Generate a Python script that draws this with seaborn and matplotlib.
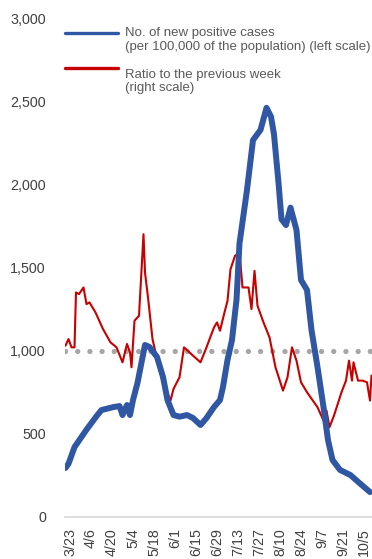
import pandas as pd
import seaborn as sns
import matplotlib.pyplot as plt
from matplotlib.lines import Line2D

year = 2021

# new positive cases per 100,000 (left scale)
case_dates = ["3/20", "3/22", "3/26", "4/3", "4/10", "4/13", "4/21", "4/25", "4/27", "4/30",
              "5/2", "5/4", "5/7", "5/10", "5/12", "5/15", "5/20", "5/24", "5/27", "5/31",
              "6/4", "6/9", "6/13", "6/18", "6/22", "6/27", "7/1", "7/3", "7/6", "7/9",
              "7/11", "7/12", "7/14", "7/19", "7/23", "7/28", "8/1", "8/4", "8/6", "8/9",
              "8/11", "8/14", "8/17", "8/21", "8/24", "8/28", "8/31", "9/4", "9/8", "9/11",
              "9/14", "9/19", "9/26", "10/2", "10/9"]
cases = [295, 320, 420, 525, 610, 643, 661, 667, 613, 673,
         613, 703, 806, 944, 1034, 1022, 962, 842, 703, 613,
         603, 613, 595, 553, 595, 661, 703, 782, 944, 1064,
         1226, 1305, 1645, 1966, 2266, 2327, 2460, 2407, 2300, 2010,
         1790, 1755, 1860, 1725, 1425, 1365, 1124, 902, 661, 463,
         343, 283, 252, 204, 150]

# ratio to the previous week (right scale)
ratio_dates = ["3/20", "3/22", "3/24", "3/26", "3/27", "3/29", "4/1", "4/3", "4/5", "4/9",
               "4/14", "4/19", "4/23", "4/27", "4/30", "5/2", "5/3", "5/5", "5/8", "5/11",
               "5/12", "5/14", "5/17", "5/20", "5/24", "5/29", "5/31", "6/4", "6/7", "6/13",
               "6/18", "6/22", "6/27", "6/29", "7/1", "7/4", "7/6", "7/8", "7/11",
               "7/14", "7/16", "7/20", "7/22", "7/24", "7/26", "7/30", "8/3", "8/7",
               "8/12", "8/15", "8/18", "8/21", "8/24", "8/28", "9/4", "9/8", "9/10", "9/12",
               "9/15", "9/20", "9/23", "9/25", "9/27", "9/28", "10/1", "10/4", "10/7", "10/9",
               "10/10"]
ratio = [1.03, 1.07, 1.02, 1.02, 1.35, 1.34, 1.38, 1.28, 1.29, 1.23,
         1.13, 1.05, 1.02, 0.93, 1.04, 0.99, 0.90, 1.18, 1.21, 1.70,
         1.47, 1.32, 1.07, 0.95, 0.81, 0.70, 0.77, 0.84, 1.02, 0.97,
         0.93, 1.02, 1.14, 1.17, 1.12, 1.23, 1.30, 1.49, 1.57,
         1.59, 1.38, 1.38, 1.25, 1.48, 1.27, 1.17, 1.08, 0.90,
         0.76, 0.84, 1.02, 0.94, 0.81, 0.75, 0.66, 0.58, 0.64, 0.54,
         0.61, 0.75, 0.82, 0.94, 0.82, 0.93, 0.82, 0.82, 0.81, 0.70,
         0.85]

tick_labels = ["3/23", "4/6", "4/20", "5/4", "5/18", "6/1", "6/15", "6/29",
               "7/13", "7/27", "8/10", "8/24", "9/7", "9/21", "10/5"]
y_ticks = [0, 500, 1000, 1500, 2000, 2500, 3000]
y_labels = ["0", "500", "1,000", "1,500", "2,000", "2,500", "3,000"]

legend_lines = [["No. of new positive cases", "(per 100,000 of the population) (left scale)"],
                ["Ratio to the previous week", "(right scale)"]]


def to_date(s):
    return pd.to_datetime(f"{year}/{s}", format="%Y/%m/%d")


case_df = pd.DataFrame({"date": [to_date(d) for d in case_dates], "cases": cases})
ratio_df = pd.DataFrame({"date": [to_date(d) for d in ratio_dates], "ratio": ratio})

sns.set_style("white")
plt.rcParams["font.family"] = ["Liberation Sans", "DejaVu Sans"]

blue = "#2F57A3"
red = "#C80000"
tick_color = "#404040"

fig = plt.figure(figsize=(3.72, 5.59), dpi=100)
ax = fig.add_axes([65 / 372, 42 / 559, 307 / 372, 499 / 559])
ax2 = ax.twinx()

# reference line at ratio 1.0 and the ratio series (drawn beneath the cases line)
ax2.axhline(1.0, color="#A6A6A6", linewidth=3.8, linestyle=(0, (0.01, 2.3)),
            dash_capstyle="round", zorder=1)
sns.lineplot(data=ratio_df, x="date", y="ratio", ax=ax2, color=red, linewidth=1.5, zorder=2)
ax2.set_ylim(0, 3)
ax2.set_yticks([])
ax2.set_ylabel("")
for s in ax2.spines.values():
    s.set_visible(False)

sns.lineplot(data=case_df, x="date", y="cases", ax=ax, color=blue, linewidth=4.3, zorder=3)
ax.set_zorder(ax2.get_zorder() + 1)
ax.patch.set_visible(False)

ax.set_xlim(pd.Timestamp("2021-03-19 16:00"), pd.Timestamp("2021-10-10 08:00"))
ax.set_ylim(0, 3000)
ax.set_yticks(y_ticks)
ax.set_yticklabels(y_labels)
ax.set_xticks([to_date(t) for t in tick_labels])
ax.set_xticklabels(tick_labels, rotation=90)
ax.tick_params(axis="y", length=0, pad=13.7, labelsize=10.3, labelcolor=tick_color)
ax.tick_params(axis="x", length=0, pad=8, labelsize=10.3, labelcolor=tick_color)
ax.set_xlabel("")
ax.set_ylabel("")
for side in ["left", "right", "top"]:
    ax.spines[side].set_visible(False)
ax.spines["bottom"].set_color("#D9D9D9")
ax.spines["bottom"].set_linewidth(1.2)

# legend
handle_y = [33, 68]
text_y = [[33, 47.3], [75, 87.7]]
for color, hy, ty, lines in zip([blue, red], handle_y, text_y, legend_lines):
    fig.add_artist(Line2D([65 / 372, 118 / 372], [1 - hy / 559, 1 - hy / 559],
                          color=color, linewidth=2.4, transform=fig.transFigure))
    for y, line in zip(ty, lines):
        fig.text(125 / 372, 1 - y / 559, line, fontsize=9.5, color="#595959",
                 va="center", ha="left")

fig.savefig("out.png", dpi=100)
